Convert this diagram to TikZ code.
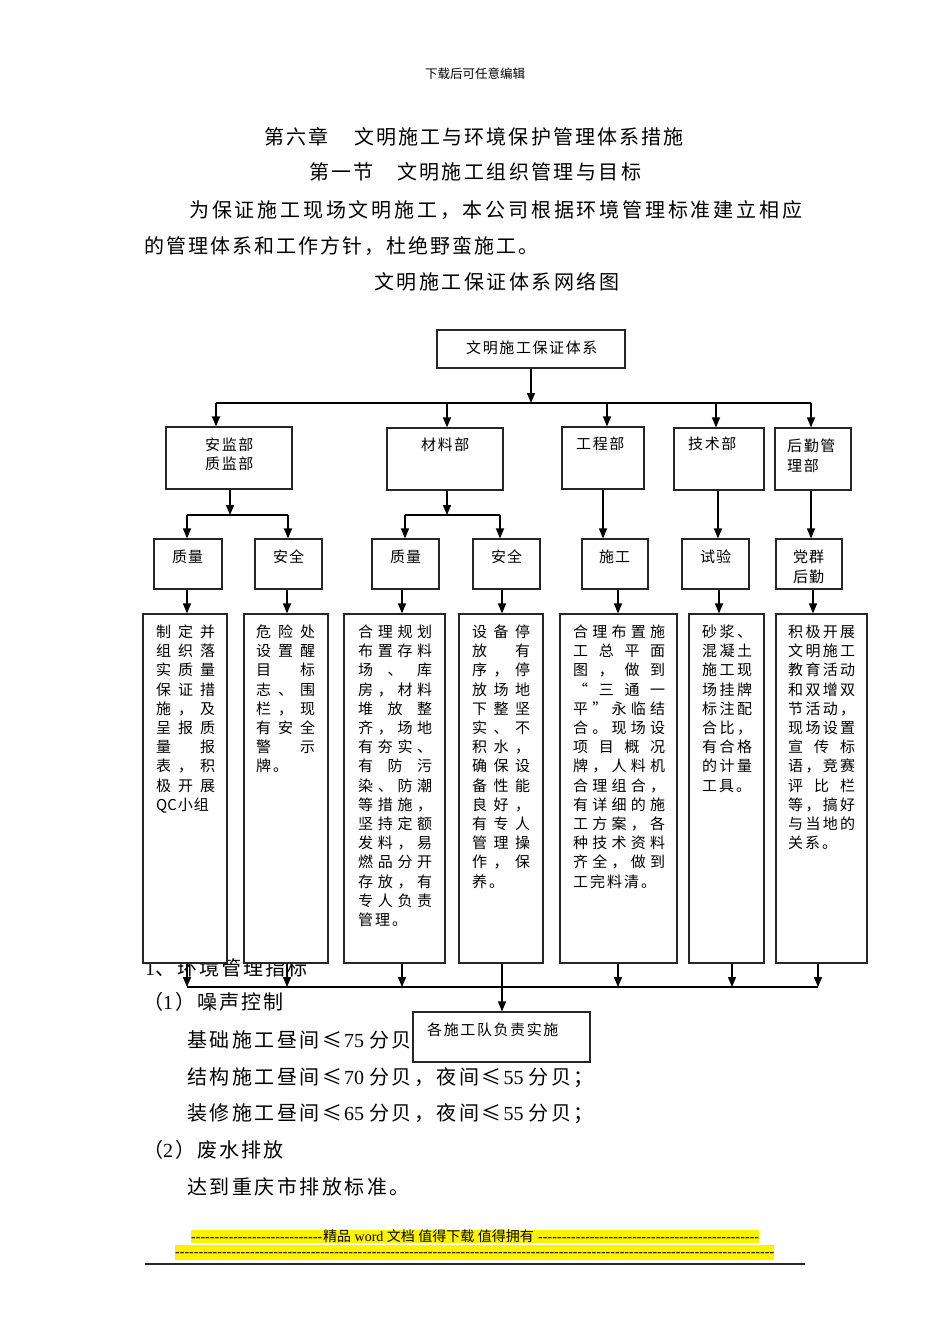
\documentclass[tikz,border=0pt]{standalone}
\usepackage{fontspec}
\newfontfamily\cjk{Noto Sans CJK SC}
\newfontfamily\lat{Liberation Serif}
\usetikzlibrary{arrows.meta,fit}
\makeatletter
\def\sfill#1{\sf@a#1\@nil}
\def\sf@a#1#2\@nil{#1\ifx\relax#2\relax\else\hfill\sf@a#2\@nil\fi}
\def\snat#1#2{\sn@a{#1}#2\@nil}
\def\sn@a#1#2#3\@nil{#2\ifx\relax#3\relax\else\hspace{#1}\sn@a{#1}#3\@nil\fi}
\makeatother
\newcommand\J[2]{\hbox to #1pt{\sfill{#2}}}
\newcommand\N[1]{\hbox{\snat{2pt}{#1}}}
\begin{document}
\begin{tikzpicture}[x=1pt,y=-1pt,
  bx/.style={draw=black!85,line width=1.2pt,fill=white,inner sep=0pt},
  ln/.style={line width=1.3pt,black},
  arr/.style={ln,-{Triangle[width=8pt,length=10pt]}},
  tx/.style={inner sep=0pt,anchor=base west,font=\cjk\fontsize{15}{19}\selectfont},
  body/.style={inner sep=0pt,anchor=base west,font=\cjk\fontsize{20}{24}\selectfont},
  foot/.style={inner sep=0pt,anchor=base west,font=\lat\fontsize{14}{14}\selectfont}]
\fill[white] (0,0) rectangle (950,1344);
\useasboundingbox (0,0) rectangle (950,1344);

% ---- page text ----
\node[tx,font=\cjk\fontsize{12.5}{13}\selectfont] (hdr) at (425,78.6) {下载后可任意编辑};
\node[body] (h1a) at (264,144.3) {\snat{2pt}{第六章}};
\node[body] (h1b) at (354,144.3) {\snat{2.1pt}{文明施工与环境保护管理体系措施}};
\node[body] (h2a) at (309,179.3) {\snat{2pt}{第一节}};
\node[body] (h2b) at (397,179.3) {\snat{2.4pt}{文明施工组织管理与目标}};
\node[body] (p1) at (189,217.3) {\snat{2.8pt}{为保证施工现场文明施工，本公司根据环境管理标准建立相应}};
\node[body] (p2) at (144,253.3) {\snat{2pt}{的管理体系和工作方针，杜绝野蛮施工。}};
\node[body] (ttl) at (374,289.3) {\snat{2.5pt}{文明施工保证体系网络图}};

\node[body] (e1) at (145,975.3) {{\lat 1}\snat{2pt}{、环境管理指标}};
\node[body] (e2) at (143,1009.3) {\snat{2pt}{（}{\lat 1}\hspace{2pt}\snat{2pt}{）噪声控制}};
\node[body] (e3) at (187,1047.3) {\snat{2.5pt}{基础施工昼间≤}\hspace{2pt}{\lat 75}\hspace{5pt}\snat{2.5pt}{分贝}};
\node[body] (e4) at (187,1084.3) {\snat{2.5pt}{结构施工昼间≤}\hspace{2pt}{\lat 70}\hspace{5pt}\snat{2.5pt}{分贝，夜间≤}\hspace{2pt}{\lat 55}\hspace{5pt}\snat{2.5pt}{分贝；}};
\node[body] (e5) at (187,1120.3) {\snat{2.5pt}{装修施工昼间≤}\hspace{2pt}{\lat 65}\hspace{5pt}\snat{2.5pt}{分贝，夜间≤}\hspace{2pt}{\lat 55}\hspace{5pt}\snat{2.5pt}{分贝；}};
\node[body] (e6) at (143,1157.3) {\snat{2pt}{（}{\lat 2}\hspace{2pt}\snat{2pt}{）废水排放}};
\node[body] (e7) at (187,1194.3) {\snat{2.5pt}{达到重庆市排放标准。}};

% ---- footer ----
\fill[yellow] (191,1230) rectangle (759,1243);
\fill[yellow] (175,1245) rectangle (774,1260);
\node[foot] (f1) at (191,1241) {\makebox[131pt]{\xleaders\hbox{-}\hfill}};
\node[foot] (f2) at (323,1241) {{\cjk 精品} word {\cjk 文档} {\cjk 值得下载} {\cjk 值得拥有}};
\node[foot] (f3) at (538,1241) {\makebox[221pt]{\xleaders\hbox{-}\hfill}};
\node[foot] (f4) at (175,1256) {\makebox[599pt]{\xleaders\hbox{-}\hfill}};
\draw[line width=1.6pt,black!85] (145,1264) -- (805,1264);

% ---- boxes ----
\node[bx,fit={(437,330) (625,368)}] (T) {};
\node[bx,fit={(166,427) (292,489)}] (A) {};
\node[bx,fit={(387,428) (503,490)}] (B) {};
\node[bx,fit={(562,427) (644,489)}] (C) {};
\node[bx,fit={(674,428) (764,490)}] (D) {};
\node[bx,fit={(775,428) (851,490)}] (E) {};
\node[bx,fit={(154,539) (222,589)}] (Q1) {};
\node[bx,fit={(255,539) (322,589)}] (S1) {};
\node[bx,fit={(372,539) (439,589)}] (Q2) {};
\node[bx,fit={(473,539) (540,589)}] (S2) {};
\node[bx,fit={(582,539) (648,589)}] (G) {};
\node[bx,fit={(682,539) (749,589)}] (H) {};
\node[bx,fit={(776,539) (842,589)}] (P) {};
\node[bx,fit={(143,614) (227,963)}] (D1) {};
\node[bx,fit={(244,614) (328,963)}] (D2) {};
\node[bx,fit={(344,614) (445,963)}] (D3) {};
\node[bx,fit={(459,614) (543,963)}] (D4) {};
\node[bx,fit={(560,614) (677,963)}] (D5) {};
\node[bx,fit={(689,614) (764,963)}] (D6) {};
\node[bx,fit={(776,614) (867,963)}] (D7) {};
\node[bx,fit={(413,1012) (590,1062)}] (F) {};

% ---- box texts ----
\node[tx] (Tt) at (466,353.5) {\snat{1.6pt}{文明施工保证体系}};
\node[tx] (At) at (205,450.5) {\vtop{\baselineskip=19pt\hbox{\snat{1.6pt}{安监部}}\hbox{\snat{1.6pt}{质监部}}}};
\node[tx] (Bt) at (421,450.5) {\snat{1.6pt}{材料部}};
\node[tx] (Ct) at (576,449.5) {\snat{1.6pt}{工程部}};
\node[tx] (Dt) at (688,449.5) {\snat{1.6pt}{技术部}};
\node[tx] (Et) at (787,451.5) {\vtop{\baselineskip=20pt\hbox{\snat{1.6pt}{后勤管}}\hbox{\snat{1.6pt}{理部}}}};
\node[tx] (Q1t) at (172,562.5) {\snat{1pt}{质量}};
\node[tx] (S1t) at (273,562.5) {\snat{1pt}{安全}};
\node[tx] (Q2t) at (390,562.5) {\snat{1pt}{质量}};
\node[tx] (S2t) at (491,562.5) {\snat{1pt}{安全}};
\node[tx] (Gt) at (599,562.5) {\snat{1pt}{施工}};
\node[tx] (Ht) at (700,562.5) {\snat{1pt}{试验}};
\node[tx] (Pt) at (793,562.5) {\vtop{\baselineskip=20pt\hbox{\snat{1pt}{党群}}\hbox{\snat{1pt}{后勤}}}};
\node[tx] (Ft) at (427,1035.5) {\snat{1.6pt}{各施工队负责实施}};

\node[tx] (D1t) at (156,637.5) {\vtop{\baselineskip=19.2pt
 \J{59}{制定并}\J{59}{组织落}\J{59}{实质量}\J{59}{保证措}\J{59}{施，及}\J{59}{呈报质}\J{59}{量报}\J{59}{表，积}\J{59}{极开展}\hbox{\snat{1pt}{{QC}小组}}}};
\node[tx] (D2t) at (256,637.5) {\vtop{\baselineskip=19.2pt
 \J{59}{危险处}\J{59}{设置醒}\J{59}{目标}\J{59}{志、围}\J{59}{栏，现}\J{59}{有安全}\J{59}{警示}\N{牌。}}};
\node[tx] (D3t) at (358,637.5) {\vtop{\baselineskip=19.2pt
 \J{74}{合理规划}\J{74}{布置存料}\J{74}{场、库}\J{74}{房，材料}\J{74}{堆放整}\J{74}{齐，场地}\J{74}{有夯实、}\J{74}{有防污}\J{74}{染、防潮}\J{74}{等措施，}\J{74}{坚持定额}\J{74}{发料，易}\J{74}{燃品分开}\J{74}{存放，有}\J{74}{专人负责}\N{管理。}}};
\node[tx] (D4t) at (472,637.5) {\vtop{\baselineskip=19.2pt
 \J{58}{设备停}\J{58}{放有}\J{58}{序，停}\J{58}{放场地}\J{58}{下整坚}\J{58}{实、不}\J{58}{积水，}\J{58}{确保设}\J{58}{备性能}\J{58}{良好，}\J{58}{有专人}\J{58}{管理操}\J{58}{作，保}\N{养。}}};
\node[tx] (D5t) at (573,637.5) {\vtop{\baselineskip=19.2pt
 \J{92}{合理布置施}\J{92}{工总平面}\J{92}{图，做到}\J{92}{“三通一}\J{92}{平”永临结}\J{92}{合。现场设}\J{92}{项目概况}\J{92}{牌，人料机}\J{92}{合理组合，}\J{92}{有详细的施}\J{92}{工方案，各}\J{92}{种技术资料}\J{92}{齐全，做到}\N{工完料清。}}};
\node[tx] (D6t) at (702,637.5) {\vtop{\baselineskip=19.2pt
 \J{50}{砂浆、}\J{50}{混凝土}\J{50}{施工现}\J{50}{场挂牌}\J{50}{标注配}\J{50}{合比，}\J{50}{有合格}\J{50}{的计量}\N{工具。}}};
\node[tx] (D7t) at (788,637.5) {\vtop{\baselineskip=19.2pt
 \J{67}{积极开展}\J{67}{文明施工}\J{67}{教育活动}\J{67}{和双增双}\J{67}{节活动，}\J{67}{现场设置}\J{67}{宣传标}\J{67}{语，竞赛}\J{67}{评比栏}\J{67}{等，搞好}\J{67}{与当地的}\N{关系。}}};

% ---- connectors ----
\coordinate (j0) at (531,403);
\coordinate (jA) at (216,403);
\coordinate (jB) at (447,403);
\coordinate (jC) at (607,403);
\coordinate (jD) at (716,403);
\coordinate (jE) at (811,403);
\draw[arr] (T.south) -- (j0);
\draw[ln] (jA) -- (jE);
\draw[arr] (jA) -- (jA |- A.north);
\draw[arr] (jB) -- (jB |- B.north);
\draw[arr] (jC) -- (jC |- C.north);
\draw[arr] (jD) -- (jD |- D.north);
\draw[arr] (jE) -- (jE |- E.north);

\coordinate (kA) at (230,515);
\coordinate (kA1) at (187,515);
\coordinate (kA2) at (288,515);
\draw[arr] (kA |- A.south) -- (kA);
\draw[ln] (kA1) -- (kA2);
\draw[arr] (kA1) -- (kA1 |- Q1.north);
\draw[arr] (kA2) -- (kA2 |- S1.north);
\coordinate (kB) at (447,515);
\coordinate (kB1) at (405,515);
\coordinate (kB2) at (500,515);
\draw[arr] (kB |- B.south) -- (kB);
\draw[ln] (kB1) -- (kB2);
\draw[arr] (kB1) -- (kB1 |- Q2.north);
\draw[arr] (kB2) -- (kB2 |- S2.north);
\coordinate (xC) at (603,0);
\coordinate (xD) at (718,0);
\coordinate (xE) at (811,0);
\draw[arr] (xC |- C.south) -- (xC |- G.north);
\draw[arr] (xD |- D.south) -- (xD |- H.north);
\draw[arr] (xE |- E.south) -- (xE |- P.north);

\coordinate (m1) at (187,0);
\coordinate (m2) at (287,0);
\coordinate (m3) at (402,0);
\coordinate (m4) at (502,0);
\coordinate (m5) at (618,0);
\coordinate (m6) at (719,0);
\coordinate (m7) at (813,0);
\draw[arr] (m1 |- Q1.south) -- (m1 |- D1.north);
\draw[arr] (m2 |- S1.south) -- (m2 |- D2.north);
\draw[arr] (m3 |- Q2.south) -- (m3 |- D3.north);
\draw[arr] (m4 |- S2.south) -- (m4 |- D4.north);
\draw[arr] (m5 |- G.south) -- (m5 |- D5.north);
\draw[arr] (m6 |- H.south) -- (m6 |- D6.north);
\draw[arr] (m7 |- P.south) -- (m7 |- D7.north);

\coordinate (n1) at (187,987);
\coordinate (n2) at (287,987);
\coordinate (n3) at (402,987);
\coordinate (n5) at (618,987);
\coordinate (n6) at (732,987);
\coordinate (n7) at (818,987);
\draw[ln] (n1) -- (n7);
\draw[arr] (n1 |- D1.south) -- (n1);
\draw[arr] (n2 |- D2.south) -- (n2);
\draw[arr] (n3 |- D3.south) -- (n3);
\draw[arr] (n5 |- D5.south) -- (n5);
\draw[arr] (n6 |- D6.south) -- (n6);
\draw[arr] (n7 |- D7.south) -- (n7);
\draw[arr] (m4 |- D4.south) -- (m4 |- F.north);
\end{tikzpicture}
\end{document}
